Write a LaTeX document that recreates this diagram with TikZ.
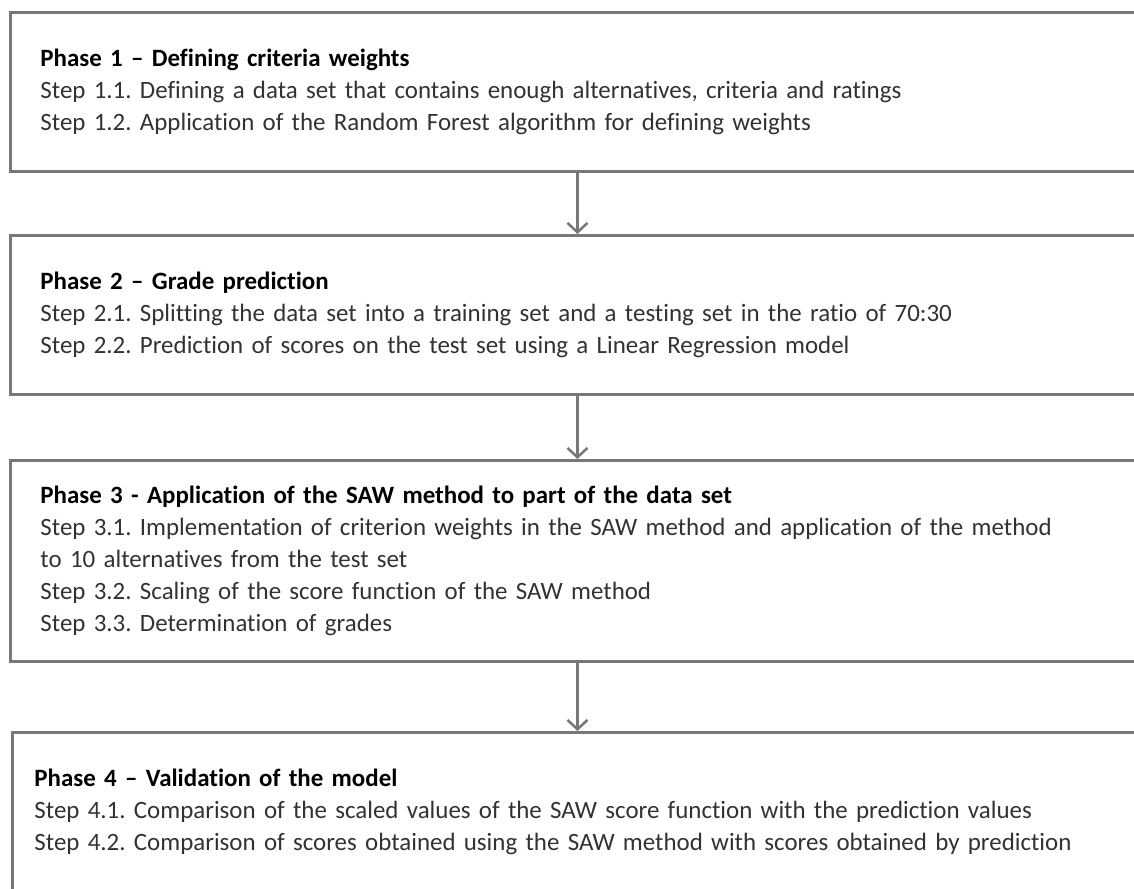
\documentclass[tikz,border=0pt]{standalone}
\usepackage{fontspec}
\setmainfont{Carlito}[Ligatures=NoCommon]
\usetikzlibrary{arrows.meta}
\definecolor{boxgray}{RGB}{120,120,120}
\definecolor{steptext}{RGB}{50,50,50}
\tikzset{
  phasebox/.style={draw=boxgray, line width=2.2pt, anchor=north west,
    inner xsep=22.5pt, text width=805.5pt, align=left,
    minimum height=119.25pt, text=steptext,
    font=\fontsize{18.7}{24}\selectfont},
  flow/.style={draw=boxgray, line width=1.9pt,
    -{Straight Barb[length=7pt,width=15pt]}}
}
\newcommand{\phasehead}[1]{{\bfseries\color{black}#1}}
\frenchspacing
\begin{document}
\begin{tikzpicture}[x=0.75pt,y=0.75pt,yscale=-1,xscale=1]
  \useasboundingbox (0,0) rectangle (1134,888);
  \fill[white] (0,0) rectangle (1134,888);
  \clip (0,0) rectangle (1134,888);
  % Phase 1
  \node[phasebox] (phase1) at (9,11) {\phasehead{Phase 1 – Defining criteria weights}\\
    Step 1.1. Defining a data set that contains enough alternatives, criteria and ratings\\
    Step 1.2. Application of the Random Forest algorithm for defining weights};
  % Phase 2
  \node[phasebox] (phase2) at (9,234) {\phasehead{Phase 2 – Grade prediction}\\
    Step 2.1. Splitting the data set into a training set and a testing set in the ratio of 70:30\\
    Step 2.2. Prediction of scores on the test set using a Linear Regression model};
  % Phase 3
  \node[phasebox, minimum height=150.75pt] (phase3) at (9,459) {\phasehead{Phase 3 - Application of the SAW method to part of the data set}\\
    Step 3.1. Implementation of criterion weights in the SAW method and application of the method\\
    to 10 alternatives from the test set\\
    Step 3.2. Scaling of the score function of the SAW method\\
    Step 3.3. Determination of grades};
  % Phase 4
  \node[phasebox, inner xsep=16.5pt, text width=817.5pt] (phase4) at (11,731) {\phasehead{Phase 4 – Validation of the model}\\
    Step 4.1. Comparison of the scaled values of the SAW score function with the prediction values\\
    Step 4.2. Comparison of scores obtained using the SAW method with scores obtained by prediction};
  % Arrows
  \draw[flow] (phase1.south) -- (phase2.north);
  \draw[flow] (phase2.south) -- (phase3.north);
  \draw[flow] (phase3.south) -- (phase3.south |- phase4.north);
\end{tikzpicture}
\end{document}
